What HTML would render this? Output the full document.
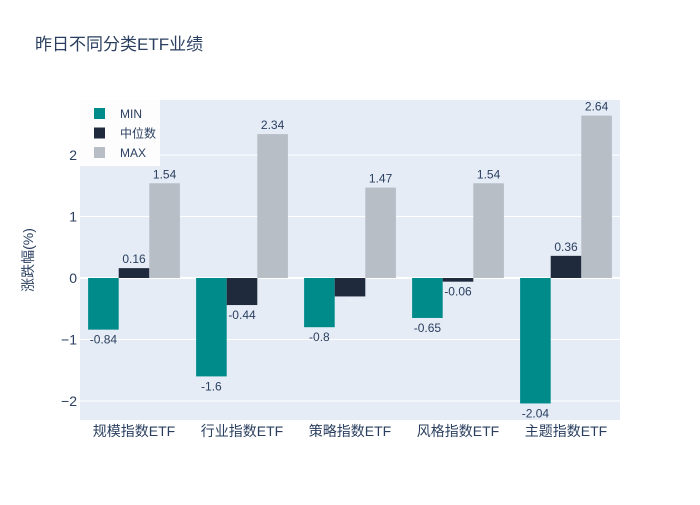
<!DOCTYPE html>
<html><head><meta charset="utf-8"><style>
body{margin:0;background:#fff;}
svg text{font-family:"Liberation Sans","Noto Sans CJK SC",sans-serif;}
</style></head><body>
<svg id="chart" width="700" height="500" xmlns="http://www.w3.org/2000/svg">
<rect width="700" height="500" fill="#fff"/>
<text x="35" y="50" font-size="17" fill="#2a3f5f">昨日不同分类ETF业绩</text>
<rect x="80" y="100" width="540" height="320" fill="#e5ecf6"/>
<g id="grid"></g><g id="bars"></g><g id="labels"></g>
<text transform="translate(33,260) rotate(-90)" text-anchor="middle" font-size="14" fill="#2a3f5f">涨跌幅(%)</text>
<g id="legend"></g>
</svg>
<script>
const categories=["规模指数ETF","行业指数ETF","策略指数ETF","风格指数ETF","主题指数ETF"];
const seriesNames=["MIN","中位数","MAX"];
const minVals=[-0.84,-1.6,-0.8,-0.65,-2.04];
const medVals=[0.16,-0.44,-0.3,-0.06,0.36];
const maxVals=[1.54,2.34,1.47,1.54,2.64];
const yTicks=[-2,-1,0,1,2];
const colors=["#008b8b","#1f2a3c","#b8bec6"];
const NS="http://www.w3.org/2000/svg";
const x0=80,x1=620,yTop=100,yBot=420,yMin=-2.309,yMax=2.894;
const y=v=>yBot-(v-yMin)/(yMax-yMin)*(yBot-yTop);
const band=(x1-x0)/categories.length, gw=band*0.85, bw=gw/3;
function mk(tag,attrs,parent){const e=document.createElementNS(NS,tag);for(const k in attrs)e.setAttribute(k,attrs[k]);parent.appendChild(e);return e;}
const grid=document.getElementById('grid');
yTicks.forEach(t=>{
  const l=mk('line',{x1:x0,x2:x1,y1:y(t),y2:y(t),stroke:'#fff','stroke-width':t===0?2:1},grid);
  
  
  const tx=mk('text',{x:x0-3,y:y(t)+5,'text-anchor':'end','font-size':14,fill:'#2a3f5f'},grid);
  tx.textContent=t<0?'−'+Math.abs(t):String(t);
  
  
});
const bars=document.getElementById('bars'),labels=document.getElementById('labels');
const series=[minVals,medVals,maxVals];
categories.forEach((c,i)=>{
  const gx=x0+band*i+(band-gw)/2;
  series.forEach((vals,s)=>{
    const v=vals[i],bx=gx+bw*s,top=Math.min(y(v),y(0)),h=Math.abs(y(v)-y(0));
    const r=mk('rect',{x:bx,y:top,width:bw,height:h,fill:colors[s]},bars);
    
    
    const small=(v<0&&h<20&&h>10);
    const t=mk('text',{x:bx+bw/2,'text-anchor':'middle','font-size':small?3:12,fill:small?'#fff':'#2a3f5f'},labels);
    t.setAttribute('y',small?y(v)+5:(v>=0?y(v)-5:y(v)+14));
    t.textContent=String(v);
    
    
  });
  const ct=mk('text',{x:x0+band*(i+0.5),y:y(yMin)+16,'text-anchor':'middle','font-size':14,fill:'#2a3f5f'},labels);
  ct.textContent=c;
  
  
});
const lg=document.getElementById('legend');
mk('rect',{x:80,y:100,width:80,height:66,fill:'#fff','fill-opacity':0.9},lg);
seriesNames.forEach((n,s)=>{
  const yy=114+s*19.5;
  const r=mk('rect',{x:94,y:yy-6,width:11,height:11,fill:colors[s]},lg);
  
  
  const t=mk('text',{x:120,y:yy+4,'font-size':12,fill:'#2a3f5f'},lg);
  t.textContent=n;
  
  
});
</script>
</body></html>
